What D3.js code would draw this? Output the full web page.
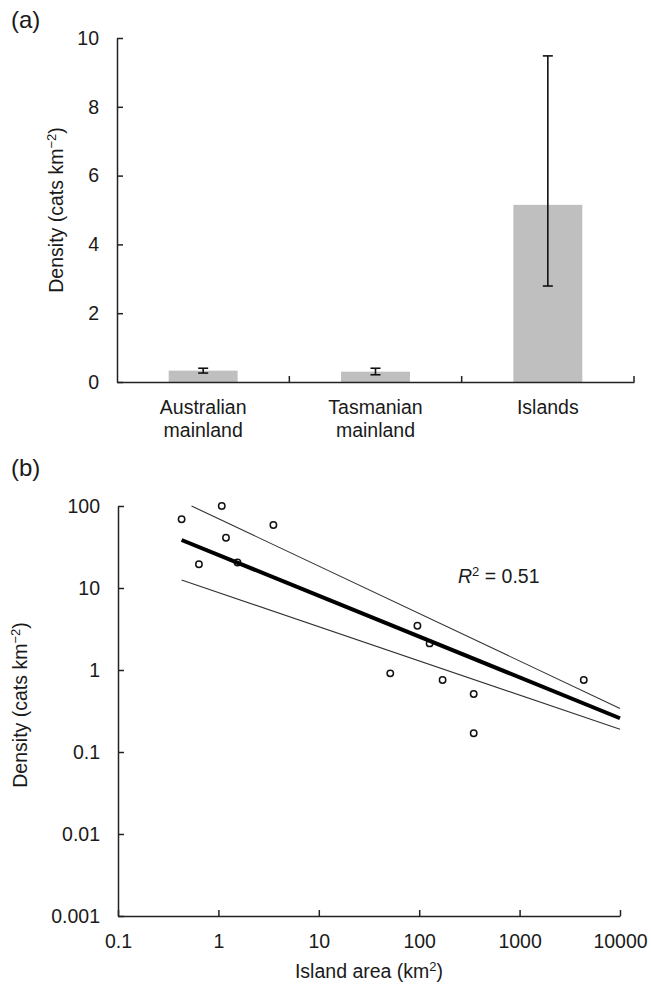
<!DOCTYPE html>
<html>
<head>
<meta charset="utf-8">
<script src="https://cdn.jsdelivr.net/npm/d3@7"></script>
<style>
  html, body { margin: 0; padding: 0; background: #fff; }
  svg { display: block; }
  text { font-family: "Liberation Sans", Arial, Helvetica, sans-serif; fill: #1a1a1a; }
</style>
</head>
<body>
<script>
// ---- Panel (a) data ----
const categories = ["Australian mainland", "Tasmanian mainland", "Islands"];
const meanDensity = [0.33, 0.30, 5.15];
const errLow = [0.26, 0.21, 2.79];
const errHigh = [0.40, 0.40, 9.48];
const yTicksA = [0, 2, 4, 6, 8, 10];

// ---- Panel (b) data ----
const islandArea = [0.43, 0.64, 1.08, 1.19, 1.55, 3.53, 51.5, 96, 127, 171, 349, 349, 4355];
const islandDensity = [69, 19.5, 100, 41, 20.5, 58.6, 0.91, 3.47, 2.11, 0.755, 0.51, 0.169, 0.755];
const fitArea = [0.43, 10000];
const fitDensity = [38.5, 0.258];
const upperArea = [0.54, 10000];
const upperDensity = [100, 0.34];
const lowerArea = [0.43, 10000];
const lowerDensity = [12.5, 0.189];
const xTicksB = [0.1, 1, 10, 100, 1000, 10000];
const yTicksB = [0.001, 0.01, 0.1, 1, 10, 100];
const rSquared = "0.51";

const W = 651, H = 988;
const FS = 19.5;
const svg = d3.select("body").append("svg").attr("width", W).attr("height", H);

// ================= Panel (a) =================
const xA = d3.scaleBand().domain(categories).range([117, 634]).paddingInner(0.6).paddingOuter(0.3);
const yA = d3.scaleLinear().domain([0, 10]).range([382, 38]);
const gA = svg.append("g");

// bars
gA.selectAll("rect.bar").data(categories).join("rect")
  .attr("x", d => xA(d)).attr("width", xA.bandwidth())
  .attr("y", (d, i) => yA(meanDensity[i])).attr("height", (d, i) => yA(0) - yA(meanDensity[i]))
  .attr("fill", "#bfbfbf");

// error bars
const capW = 5;
categories.forEach((c, i) => {
  const cx = xA(c) + xA.bandwidth() / 2;
  gA.append("line").attr("x1", cx).attr("x2", cx).attr("y1", yA(errLow[i])).attr("y2", yA(errHigh[i]))
    .attr("stroke", "#111").attr("stroke-width", 1.6);
  [errLow[i], errHigh[i]].forEach(v => {
    gA.append("line").attr("x1", cx - capW).attr("x2", cx + capW).attr("y1", yA(v)).attr("y2", yA(v))
      .attr("stroke", "#111").attr("stroke-width", 1.6);
  });
});

// y axis
const yAxisA = gA.append("g").attr("transform", "translate(117,0)")
  .call(d3.axisLeft(yA).tickValues(yTicksA).tickSizeInner(-6).tickSizeOuter(0).tickPadding(18).tickFormat(d3.format("d")));
yAxisA.selectAll("text").style("font-size", FS + "px").style("font-family", null);
yAxisA.selectAll("path, line").attr("stroke", "#222").attr("stroke-width", 1.5);

// x axis (domain line + boundary ticks + labels)
const xAxisA = gA.append("g").attr("transform", "translate(0,382)")
  .call(d3.axisBottom(xA).tickSize(0).tickPadding(0).tickFormat(""));
xAxisA.select(".domain").attr("stroke", "#222").attr("stroke-width", 1.5);
const step = xA.step();
d3.range(1, categories.length + 1).forEach(k => {
  const bx = xA.range()[0] + k * step;
  gA.append("line").attr("x1", bx).attr("x2", bx).attr("y1", 382).attr("y2", 376)
    .attr("stroke", "#222").attr("stroke-width", 1.5);
});
categories.forEach(c => {
  const cx = xA(c) + xA.bandwidth() / 2;
  const words = c.split(" ");
  const t = gA.append("text").attr("text-anchor", "middle").style("font-size", FS + "px");
  words.forEach((w, j) => {
    t.append("tspan").attr("x", cx).attr("y", 414 + j * 23).text(w);
  });
});

// y label
const labA = gA.append("text").attr("transform", "translate(63,210) rotate(-90)")
  .attr("text-anchor", "middle").style("font-size", FS + "px");
labA.append("tspan").text("Density (cats km");
labA.append("tspan").attr("dy", -7).style("font-size", "13px").text("−2");
labA.append("tspan").attr("dy", 7).text(")");

svg.append("text").attr("x", 11).attr("y", 28).style("font-size", "24px").text("(a)");

// ================= Panel (b) =================
const xB = d3.scaleLog().domain([0.1, 10000]).range([118, 620]);
const yB = d3.scaleLog().domain([0.001, 100]).range([916, 506]);
const gB = svg.append("g");

const fmtB = d => (d >= 1 ? d3.format("d")(d) : String(d));

const yAxisB = gB.append("g").attr("transform", "translate(118,0)")
  .call(d3.axisLeft(yB).tickValues(yTicksB).tickSizeInner(-6).tickSizeOuter(0).tickPadding(18).tickFormat(fmtB));
yAxisB.selectAll("text").style("font-size", FS + "px").style("font-family", null);
yAxisB.selectAll("path, line").attr("stroke", "#222").attr("stroke-width", 1.5);

const xAxisB = gB.append("g").attr("transform", "translate(0,916)")
  .call(d3.axisBottom(xB).tickValues(xTicksB).tickSizeInner(-6).tickSizeOuter(0).tickPadding(18).tickFormat(fmtB));
xAxisB.selectAll("text").style("font-size", FS + "px").style("font-family", null).attr("dy", "0.71em");
xAxisB.selectAll("path, line").attr("stroke", "#222").attr("stroke-width", 1.5);

const line = d3.line().x(d => xB(d[0])).y(d => yB(d[1]));
gB.append("path").datum(d3.zip(upperArea, upperDensity)).attr("d", line)
  .attr("fill", "none").attr("stroke", "#333").attr("stroke-width", 1.1);
gB.append("path").datum(d3.zip(lowerArea, lowerDensity)).attr("d", line)
  .attr("fill", "none").attr("stroke", "#333").attr("stroke-width", 1.1);

gB.selectAll("circle.pt").data(d3.zip(islandArea, islandDensity)).join("circle")
  .attr("cx", d => xB(d[0])).attr("cy", d => yB(d[1])).attr("r", 3.2)
  .attr("fill", "#fff").attr("stroke", "#111").attr("stroke-width", 1.5);

gB.append("path").datum(d3.zip(fitArea, fitDensity)).attr("d", line)
  .attr("fill", "none").attr("stroke", "#000").attr("stroke-width", 4);

const r2 = gB.append("text").attr("x", 458).attr("y", 583).style("font-size", FS + "px");
r2.append("tspan").style("font-style", "italic").text("R");
r2.append("tspan").attr("dy", -7).style("font-size", "13px").text("2");
r2.append("tspan").attr("dy", 7).text(" = " + rSquared);

const labB = gB.append("text").attr("transform", "translate(27,705) rotate(-90)")
  .attr("text-anchor", "middle").style("font-size", FS + "px");
labB.append("tspan").text("Density (cats km");
labB.append("tspan").attr("dy", -7).style("font-size", "13px").text("−2");
labB.append("tspan").attr("dy", 7).text(")");

const xlabB = gB.append("text").attr("x", 369).attr("y", 978).attr("text-anchor", "middle").style("font-size", FS + "px");
xlabB.append("tspan").text("Island area (km");
xlabB.append("tspan").attr("dy", -7).style("font-size", "13px").text("2");
xlabB.append("tspan").attr("dy", 7).text(")");

svg.append("text").attr("x", 11).attr("y", 476).style("font-size", "24px").text("(b)");
</script>
</body>
</html>
